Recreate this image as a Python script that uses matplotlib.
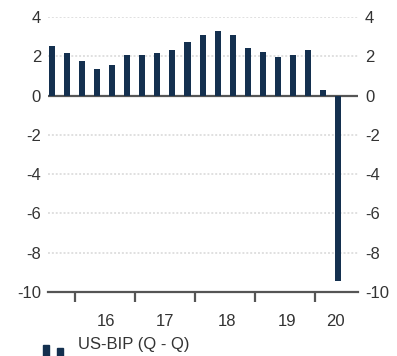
import matplotlib.pyplot as plt
import numpy as np
from matplotlib.patches import Rectangle

plt.rcParams['font.family'] = ['Liberation Sans', 'DejaVu Sans']

# US GDP, quarter over quarter, 2015Q3 .. 2020Q2
quarters = ['15Q3', '15Q4',
            '16Q1', '16Q2', '16Q3', '16Q4',
            '17Q1', '17Q2', '17Q3', '17Q4',
            '18Q1', '18Q2', '18Q3', '18Q4',
            '19Q1', '19Q2', '19Q3', '19Q4',
            '20Q1', '20Q2']
gdp = [2.53, 2.19, 1.77, 1.37, 1.57, 2.08,
       2.08, 2.19, 2.33, 2.73, 3.09, 3.29,
       3.09, 2.43, 2.23, 1.97, 2.08, 2.33,
       0.3, -9.45]
year_labels = ['16', '17', '18', '19', '20']
year_label_pos = [3.6, 7.5, 11.6, 15.6, 18.8]
year_bounds = [1.5, 5.5, 9.5, 13.5, 17.5]
series_name = 'US-BIP (Q - Q)'

BAR = '#14304f'
TXT = '#333333'
FS = 12

fig = plt.figure(figsize=(3.97, 3.56), dpi=100)
ax = fig.add_axes([48 / 397, 64 / 356, 310 / 397, 275 / 356])

x = np.arange(len(gdp))
ax.bar(x, gdp, width=0.4, color=BAR, zorder=3)

ax.set_xlim(-0.27, 20.33)
ax.set_ylim(-10, 4)

# grid
for y in [4, 2, -2, -4, -6, -8]:
    ax.axhline(y, color='#e0e0e0', lw=1.4, ls=(0, (1, 1)), zorder=1)
ax.axhline(0, color='#555555', lw=1.6, zorder=2)

for s in ['top', 'left', 'right']:
    ax.spines[s].set_visible(False)
ax.spines['bottom'].set_color('#555555')
ax.spines['bottom'].set_linewidth(1.6)

ax.set_yticks(np.arange(-10, 5, 2))
ax.set_yticklabels([str(v) for v in range(-10, 5, 2)])
ax.tick_params(axis='y', length=0, labelsize=FS, labelcolor=TXT,
               left=True, right=True, labelleft=True, labelright=True, pad=5)

ax.set_xticks(year_bounds)
ax.set_xticklabels([])
ax.tick_params(axis='x', direction='out', length=7.5, width=1.6,
               color='#555555')
for lbl, xp in zip(year_labels, year_label_pos):
    ax.text(xp, -11.5, lbl, ha='center', va='center', fontsize=FS,
            color=TXT)

# legend
fig.patches.append(Rectangle((43 / 397, 0), 6 / 397, 11 / 356,
                             transform=fig.transFigure, color=BAR))
fig.patches.append(Rectangle((57 / 397, 0), 6 / 397, 8 / 356,
                             transform=fig.transFigure, color=BAR))
fig.text(78 / 397, 1 - 345 / 356, series_name, ha='left', va='center',
         fontsize=FS, color=TXT)

fig.savefig('out.png', dpi=100)
